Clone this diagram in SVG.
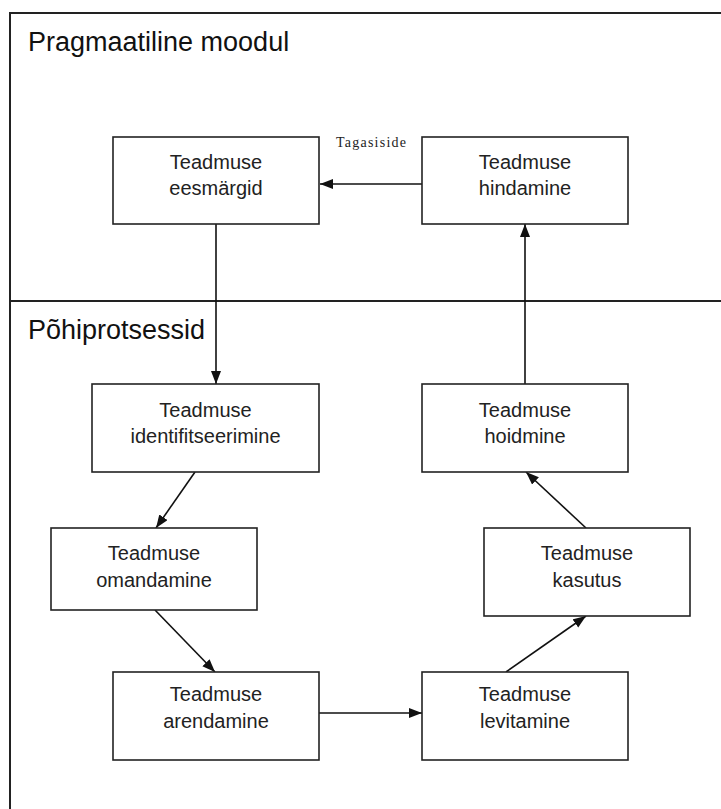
<svg xmlns="http://www.w3.org/2000/svg" width="721" height="809" viewBox="0 0 721 809">
<defs>
<style>
.frame{fill:none;stroke:#222;stroke-width:2}
.box{fill:#fff;stroke:#222;stroke-width:1.6}
.lbl{font-family:"Liberation Sans",Arial,sans-serif;font-size:20px;fill:#222;text-anchor:middle}
.title{font-family:"Liberation Sans",Arial,sans-serif;font-size:27px;fill:#111}
.edge{fill:none;stroke:#111;stroke-width:1.6;marker-end:url(#arr)}
.small{font-family:"Liberation Serif","Times New Roman",serif;font-size:14px;fill:#222}
</style>
<marker id="arr" markerUnits="userSpaceOnUse" markerWidth="14" markerHeight="12" refX="13" refY="5" orient="auto">
<path d="M0,0 L13,5 L0,10 Z" fill="#111"/>
</marker>
</defs>
<rect width="721" height="809" fill="#fff"/>
<g id="frame">
<rect class="frame" x="10" y="13" width="722" height="820"/>
<line class="frame" x1="10" y1="301" x2="721" y2="301"/>
<text class="title" x="28" y="51">Pragmaatiline moodul</text>
<text class="title" x="28" y="339">Põhiprotsessid</text>
</g>
<g id="connectors">
<path class="edge" d="M422,184 L320,184"/>
<path class="edge" d="M216,224 L216,384"/>
<path class="edge" d="M525,384 L525,224"/>
<path class="edge" d="M195,472 L156,528"/>
<path class="edge" d="M155,610 L215,672"/>
<path class="edge" d="M319,713 L422,713"/>
<path class="edge" d="M506,672 L586,616"/>
<path class="edge" d="M586,528 L526,472"/>
<text class="small" x="336" y="147" textLength="70">Tagasiside</text>
</g>
<g id="eesmargid">
<rect class="box" x="113" y="137" width="206" height="87"/>
<text class="lbl" x="216" y="169">Teadmuse</text>
<text class="lbl" x="216" y="195">eesmärgid</text>
</g>
<g id="hindamine">
<rect class="box" x="422" y="137" width="206" height="87"/>
<text class="lbl" x="525" y="169">Teadmuse</text>
<text class="lbl" x="525" y="195">hindamine</text>
</g>
<g id="identifitseerimine">
<rect class="box" x="92" y="384" width="227" height="88"/>
<text class="lbl" x="205.5" y="417">Teadmuse</text>
<text class="lbl" x="205.5" y="443">identifitseerimine</text>
</g>
<g id="hoidmine">
<rect class="box" x="422" y="384" width="206" height="88"/>
<text class="lbl" x="525" y="417">Teadmuse</text>
<text class="lbl" x="525" y="443">hoidmine</text>
</g>
<g id="omandamine">
<rect class="box" x="51" y="528" width="206" height="82"/>
<text class="lbl" x="154" y="560">Teadmuse</text>
<text class="lbl" x="154" y="587">omandamine</text>
</g>
<g id="kasutus">
<rect class="box" x="484" y="528" width="206" height="88"/>
<text class="lbl" x="587" y="560">Teadmuse</text>
<text class="lbl" x="587" y="587">kasutus</text>
</g>
<g id="arendamine">
<rect class="box" x="113" y="672" width="206" height="88"/>
<text class="lbl" x="216" y="701">Teadmuse</text>
<text class="lbl" x="216" y="728">arendamine</text>
</g>
<g id="levitamine">
<rect class="box" x="422" y="672" width="206" height="88"/>
<text class="lbl" x="525" y="701">Teadmuse</text>
<text class="lbl" x="525" y="728">levitamine</text>
</g>
</svg>
